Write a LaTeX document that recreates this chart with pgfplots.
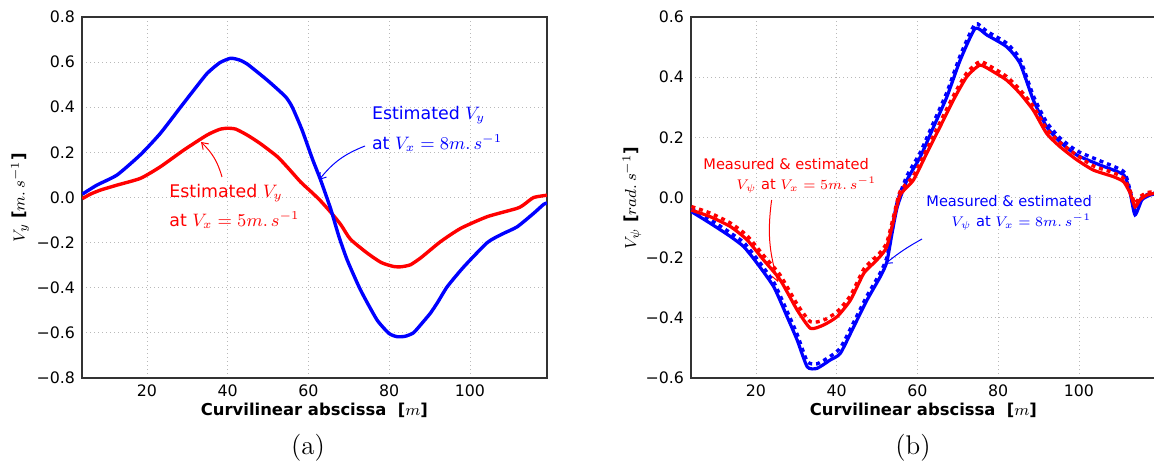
\documentclass[border=0pt]{standalone}
\usepackage{fontspec}
\usepackage{pgfplots}
\pgfplotsset{compat=1.18}
\usetikzlibrary{arrows.meta}
\newfontfamily\dejavu{DejaVu Sans}
\definecolor{pblue}{RGB}{0,0,255}
\definecolor{pred}{RGB}{255,0,0}

\pgfplotstableread{
x y
4 0.015
7.6 0.055
12.6 0.10
18.4 0.19
23.3 0.284
28.3 0.40
31.6 0.476
34.9 0.55
38 0.597
40.7 0.617
42.8 0.610
44.8 0.592
49.8 0.52
54.3 0.447
56 0.40
58.4 0.30
61 0.17
63 0.078
65.5 -0.05
67.5 -0.17
69.6 -0.277
72.9 -0.41
77 -0.543
80 -0.603
82 -0.617
84 -0.615
86 -0.600
88 -0.56
90.2 -0.513
92 -0.465
94.4 -0.395
98.5 -0.307
104.3 -0.200
108 -0.162
111.7 -0.13
115.8 -0.07
118.3 -0.03
119.1 -0.025
}\leftblue

\pgfplotstableread{
x y
4 -0.005
6 0.015
8.5 0.033
12.6 0.055
18.4 0.085
23.3 0.136
29.1 0.21
34.9 0.277
38 0.302
40 0.307
42 0.303
44.8 0.277
48 0.24
52.3 0.181
55 0.13
58.1 0.068
61 0.02
63 -0.015
65.5 -0.065
68 -0.12
70.4 -0.185
74.6 -0.247
78 -0.288
81.1 -0.306
83 -0.307
85.3 -0.298
88 -0.265
92.7 -0.196
97.7 -0.137
104.3 -0.085
111.7 -0.048
113.5 -0.03
115.8 0.0
119.1 0.01
}\leftred

\pgfplotstableread{
x y
4 -0.047
8.7 -0.086
13.7 -0.13
17 -0.164
20.3 -0.219
24.4 -0.297
27.7 -0.396
30.2 -0.474
32.7 -0.563
35.1 -0.568
38.4 -0.54
40.9 -0.518
44.2 -0.43
47.5 -0.341
50.8 -0.263
52.4 -0.215
53.7 -0.119
55 -0.031
57.4 0.058
60.7 0.135
64 0.235
67.3 0.335
70.6 0.457
74.3 0.562
77.2 0.54
82.1 0.501
85.4 0.446
88.7 0.324
92 0.235
95.3 0.185
99.5 0.141
105.2 0.108
111.1 0.075
112.7 0.014
113.9 -0.058
115.6 -0.008
117.6 0.008
119.1 0.012
}\rightbluesolid

\pgfplotstableread{
x y
4 -0.036
8.7 -0.074
13.7 -0.118
17 -0.150
20.3 -0.205
24.4 -0.282
27.7 -0.378
30.2 -0.455
32.7 -0.545
35.1 -0.553
38.4 -0.528
40.9 -0.500
44.2 -0.415
47.5 -0.327
50.8 -0.250
52.4 -0.200
53.7 -0.105
55 -0.015
57.4 0.072
60.7 0.150
64 0.250
67.3 0.350
70.6 0.472
74.3 0.577
77.2 0.552
82.1 0.513
85.4 0.460
88.7 0.338
92 0.250
95.3 0.198
99.5 0.155
105.2 0.122
111.1 0.086
112.7 0.022
113.9 -0.045
115.6 0.000
117.6 0.013
119.1 0.016
}\rightbluedash

\pgfplotstableread{
x y
4 -0.042
8.7 -0.064
13.7 -0.097
17.8 -0.141
21.9 -0.208
26 -0.274
30.2 -0.374
33.5 -0.435
36.7 -0.424
40.1 -0.396
43.4 -0.341
46.7 -0.252
49.1 -0.219
50.8 -0.195
52.4 -0.164
54.1 -0.075
55.7 0.008
59 0.058
62.3 0.147
65.6 0.235
68.9 0.324
72.2 0.401
75.5 0.44
78.8 0.418
82.1 0.39
85.4 0.346
88.7 0.29
92 0.213
95.3 0.169
99.5 0.125
103.6 0.091
108.6 0.069
111.1 0.052
112.7 0.014
113.9 -0.031
115.1 -0.008
116.8 0.008
119.1 0.015
}\rightredsolid

\pgfplotstableread{
x y
4 -0.030
8.7 -0.052
13.7 -0.085
17.8 -0.127
21.9 -0.193
26 -0.258
30.2 -0.355
33.5 -0.413
36.7 -0.408
40.1 -0.380
43.4 -0.326
46.7 -0.238
49.1 -0.205
50.8 -0.182
52.4 -0.150
54.1 -0.062
55.7 0.020
59 0.072
62.3 0.160
65.6 0.250
68.9 0.338
72.2 0.414
75.5 0.452
78.8 0.430
82.1 0.402
85.4 0.358
88.7 0.303
92 0.228
95.3 0.183
99.5 0.140
103.6 0.105
108.6 0.082
111.1 0.064
112.7 0.022
113.9 -0.020
115.1 0.002
116.8 0.016
119.1 0.020
}\rightreddash

\begin{document}
\begin{tikzpicture}
\path[use as bounding box] (0,0) rectangle (577pt,-234.5pt);
\pgfplotsset{myax/.style={
  scale only axis, width=232.5pt, height=180.5pt,
  xmin=3.9, xmax=119.1,
  xtick={20,40,60,80,100}, xticklabels={20,40,60,80,100},
  grid=major,
  major grid style={gray!55, line width=0.4pt, dash pattern=on 0.5pt off 1.5pt},
  major tick length=0pt,
  axis line style={black!80, line width=0.7pt},
  ticklabel style={font=\dejavu\fontsize{7.9}{9}\selectfont},
  every axis plot/.append style={smooth, tension=0.35, no markers},
  anchor=north west}}

\begin{axis}[myax, at={(41pt,-8.5pt)},
  ymin=-0.8, ymax=0.8,
  ytick={-0.8,-0.6,-0.4,-0.2,0,0.2,0.4,0.6,0.8},
  yticklabels={−0.8,−0.6,−0.4,−0.2,0.0,0.2,0.4,0.6,0.8}]
\addplot[pred, line width=1.7pt] table {\leftred};
\addplot[pblue, line width=1.7pt] table {\leftblue};
\end{axis}

\begin{axis}[myax, at={(345.5pt,-8.5pt)},
  ymin=-0.6, ymax=0.6,
  ytick={-0.6,-0.4,-0.2,0,0.2,0.4,0.6},
  yticklabels={−0.6,−0.4,−0.2,0.0,0.2,0.4,0.6}]
\addplot[pblue, line width=1.6pt] table {\rightbluesolid};
\addplot[pblue, line width=1.7pt, dash pattern=on 2pt off 2pt] table {\rightbluedash};
\addplot[pred, line width=1.6pt] table {\rightredsolid};
\addplot[pred, line width=1.7pt, dash pattern=on 2pt off 2pt] table {\rightreddash};
\end{axis}

% axis labels
\node[rotate=90, font=\dejavu\fontsize{8.3}{10}\selectfont] at (10pt,-99pt)
  {$V_y$\ {\bfseries [}$m.\,s^{-1}${\bfseries ]}};
\node[rotate=90, font=\dejavu\fontsize{8.3}{10}\selectfont] at (316pt,-99pt)
  {$V_\psi$\ {\bfseries [}$rad.\,s^{-1}${\bfseries ]}};
\node[font=\dejavu\bfseries\fontsize{8.2}{10}\selectfont] at (157.2pt,-205pt)
  {Curvilinear abscissa\ \ [$m$]};
\node[font=\dejavu\bfseries\fontsize{8.2}{10}\selectfont] at (461.7pt,-205pt)
  {Curvilinear abscissa\ \ [$m$]};
\node[font=\fontsize{13.5}{15}\selectfont] at (154pt,-224pt) {(a)};
\node[font=\fontsize{13.5}{15}\selectfont] at (456.5pt,-224pt) {(b)};

% annotations left
\node[pblue, anchor=west, inner sep=0pt, font=\dejavu\fontsize{8.7}{10}\selectfont] at (185.8pt,-57.5pt) {Estimated $V_y$};
\node[pblue, anchor=west, inner sep=0pt, font=\dejavu\fontsize{8.7}{10}\selectfont] at (185.8pt,-71.5pt) {at $V_x=8m.\,s^{-1}$};
\draw[pblue, line width=0.5pt, -{Straight Barb[length=3pt,width=4pt]}] (182.5pt,-73pt) to[bend right=15] (159.5pt,-90pt);
\node[pred, anchor=west, inner sep=0pt, font=\dejavu\fontsize{8.7}{10}\selectfont] at (84.5pt,-96.5pt) {Estimated $V_y$};
\node[pred, anchor=west, inner sep=0pt, font=\dejavu\fontsize{8.7}{10}\selectfont] at (84.5pt,-110pt) {at $V_x=5m.\,s^{-1}$};
\draw[pred, line width=0.5pt, -{Straight Barb[length=3pt,width=4pt]}] (111pt,-88.5pt) to[bend right=15] (100.5pt,-71pt);

% annotations right
\node[pred, anchor=west, inner sep=0pt, font=\dejavu\fontsize{7.3}{9}\selectfont] at (351.5pt,-82pt) {Measured \& estimated};
\node[pred, anchor=west, inner sep=0pt, font=\dejavu\fontsize{7.3}{9}\selectfont] at (368pt,-92.5pt) {$V_\psi$ at $V_x=5m.\,s^{-1}$};
\draw[pred, line width=0.5pt, -{Straight Barb[length=3pt,width=4pt]}] (385.8pt,-100pt) to[bend right=12] (389pt,-141pt);
\node[pblue, anchor=west, inner sep=0pt, font=\dejavu\fontsize{7.3}{9}\selectfont] at (463pt,-100.5pt) {Measured \& estimated};
\node[pblue, anchor=west, inner sep=0pt, font=\dejavu\fontsize{7.3}{9}\selectfont] at (475.5pt,-111pt) {$V_\psi$ at $V_x=8m.\,s^{-1}$};
\draw[pblue, line width=0.5pt, -{Straight Barb[length=3pt,width=4pt]}] (461pt,-119.5pt) to[bend right=5] (442.5pt,-132pt);
\end{tikzpicture}
\end{document}
